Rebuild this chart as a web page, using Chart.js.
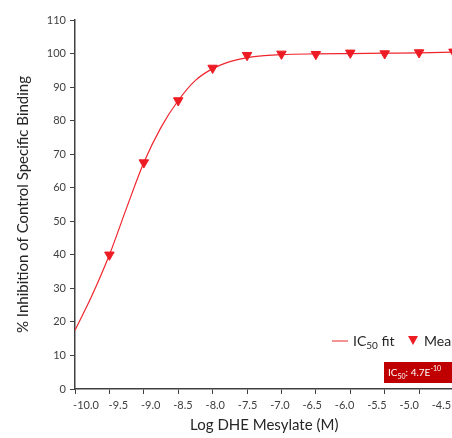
<!DOCTYPE html>
<html>
<head>
<meta charset="utf-8">
<script src="https://cdn.jsdelivr.net/npm/chart.js@4"></script>
<style>
  html, body { margin: 0; padding: 0; background: #fff; overflow: hidden; }
  #wrap { width: 452px; height: 438px; overflow: hidden; }
</style>
</head>
<body>
<div id="wrap"><canvas id="myChart" width="460" height="438"></canvas></div>
<script>
// 측정값 (log 농도, % 억제)
const logConc = [-9.5, -9.0, -8.5, -8.0, -7.5, -7.0, -6.5, -6.0, -5.5, -5.0, -4.5];
const measured = [40, 67.5, 86, 95.7, 99.5, 99.9, 99.8, 100.2, 100, 100.3, 100.5];

// 피팅 곡선
const fitX = [-10.0, -9.75, -9.5, -9.25, -9.0, -8.75, -8.5, -8.25, -8.0, -7.75, -7.5, -7.25, -7.0, -6.5, -6.0, -5.5, -5.0, -4.5];
const fitY = [17.5, 28, 40, 54, 67.5, 78, 86, 92, 95.5, 97.6, 98.8, 99.4, 99.7, 99.9, 100, 100.1, 100.2, 100.4];

const xTicks = [-10.0, -9.5, -9.0, -8.5, -8.0, -7.5, -7.0, -6.5, -6.0, -5.5, -5.0, -4.5];
const yTicks = [0, 10, 20, 30, 40, 50, 60, 70, 80, 90, 100, 110];

const RED = '#ED1C24';
const FONT = 'Lato, "Open Sans", sans-serif';

// x축 눈금 라벨 (원본처럼 라벨 간격이 눈금보다 조금 좁음)
const xLabelPlugin = {
    id: 'xLabels',
    afterDraw(chart) {
        const c = chart.ctx;
        const area = chart.chartArea;
        const n = xTicks.length - 1;
        const start = area.left + 11;
        const step = (area.right - 12 - start) / n;
        c.save();
        c.fillStyle = '#404040';
        c.font = '11px ' + FONT;
        c.textAlign = 'center';
        c.textBaseline = 'middle';
        xTicks.forEach((v, i) => {
            c.fillText(v.toFixed(1), start + i * step, area.bottom + 16);
        });
        c.restore();
    }
};

// 범례와 IC50 상자 그리기
const legendPlugin = {
    id: 'legendBox',
    afterDraw(chart) {
        const c = chart.ctx;
        c.save();
        // 선 범례
        c.strokeStyle = '#F07070';
        c.lineWidth = 1.5;
        c.beginPath();
        c.moveTo(332, 341);
        c.lineTo(348, 341);
        c.stroke();
        c.fillStyle = '#262626';
        c.textBaseline = 'alphabetic';
        c.font = '14px ' + FONT;
        c.fillText('IC', 353, 346);
        let w = c.measureText('IC').width;
        c.font = '10px ' + FONT;
        c.fillText('50', 353 + w, 349);
        let w2 = c.measureText('50').width;
        c.font = '14px ' + FONT;
        c.fillText(' fit', 353 + w + w2, 346);
        // 삼각형 범례
        c.fillStyle = RED;
        c.beginPath();
        c.moveTo(408, 336);
        c.lineTo(418, 336);
        c.lineTo(413, 345);
        c.closePath();
        c.fill();
        c.fillStyle = '#262626';
        c.font = '14px ' + FONT;
        c.fillText('Measured', 424, 346);
        // IC50 상자
        c.fillStyle = '#C00000';
        c.fillRect(384, 362, 80, 21);
        c.fillStyle = '#ffffff';
        c.font = '10px ' + FONT;
        c.fillText('IC', 388, 376);
        w = c.measureText('IC').width;
        c.font = '7px ' + FONT;
        c.fillText('50', 388 + w, 379);
        w2 = c.measureText('50').width;
        c.font = '10px ' + FONT;
        c.fillText(': 4.7E', 388 + w + w2, 376);
        const w3 = c.measureText(': 4.7E').width;
        c.font = '7px ' + FONT;
        c.fillText('-10', 388 + w + w2 + w3, 371);
        c.restore();
    }
};

const ctx = document.getElementById('myChart').getContext('2d');

const myChart = new Chart(ctx, {
    type: 'scatter',
    data: {
        datasets: [
            {
                label: 'IC50 fit',
                data: fitX.map((x, i) => ({ x: x, y: fitY[i] })),
                showLine: true,
                borderColor: '#F0262E',
                borderWidth: 1.2,
                pointRadius: 0,
                cubicInterpolationMode: 'monotone',
                order: 2,
            },
            {
                label: 'Measured',
                data: logConc.map((x, i) => ({ x: x, y: measured[i] })),
                showLine: false,
                pointStyle: 'triangle',
                rotation: 180,
                pointRadius: 5.5,
                backgroundColor: RED,
                borderColor: RED,
                clip: false,
                order: 1,
            },
        ],
    },
    options: {
        responsive: false,
        animation: false,
        layout: { padding: { top: 20, right: 0, left: 0, bottom: 0 } },
        plugins: {
            legend: { display: false },
            tooltip: { enabled: false },
        },
        scales: {
            x: {
                type: 'linear',
                min: -10,
                max: -4.5,
                afterBuildTicks(scale) { scale.ticks = xTicks.map(v => ({ value: v })); },
                afterFit(scale) { scale.height = 49; },
                ticks: { display: false },
                grid: { display: true, drawOnChartArea: false, drawTicks: true, tickLength: 5, color: '#404040' },
                border: { display: true, color: '#404040', width: 1.5 },
                title: {
                    display: true,
                    text: 'Log DHE Mesylate (M)',
                    color: '#262626',
                    font: { family: FONT, size: 15 },
                    padding: { top: 12 },
                },
            },
            y: {
                min: 0,
                max: 110,
                afterBuildTicks(scale) { scale.ticks = yTicks.map(v => ({ value: v })); },
                afterFit(scale) { scale.width = 75; },
                ticks: {
                    color: '#404040',
                    font: { family: FONT, size: 11 },
                    padding: 4,
                },
                grid: { display: true, drawOnChartArea: false, drawTicks: true, tickLength: 5, color: '#404040' },
                border: { display: true, color: '#404040', width: 1.5 },
                title: {
                    display: true,
                    text: '% Inhibition of Control Specific Binding',
                    color: '#262626',
                    font: { family: FONT, size: 15 },
                    padding: { top: 14, bottom: 0 },
                },
            },
        },
    },
    plugins: [legendPlugin, xLabelPlugin],
});
</script>
</body>
</html>
